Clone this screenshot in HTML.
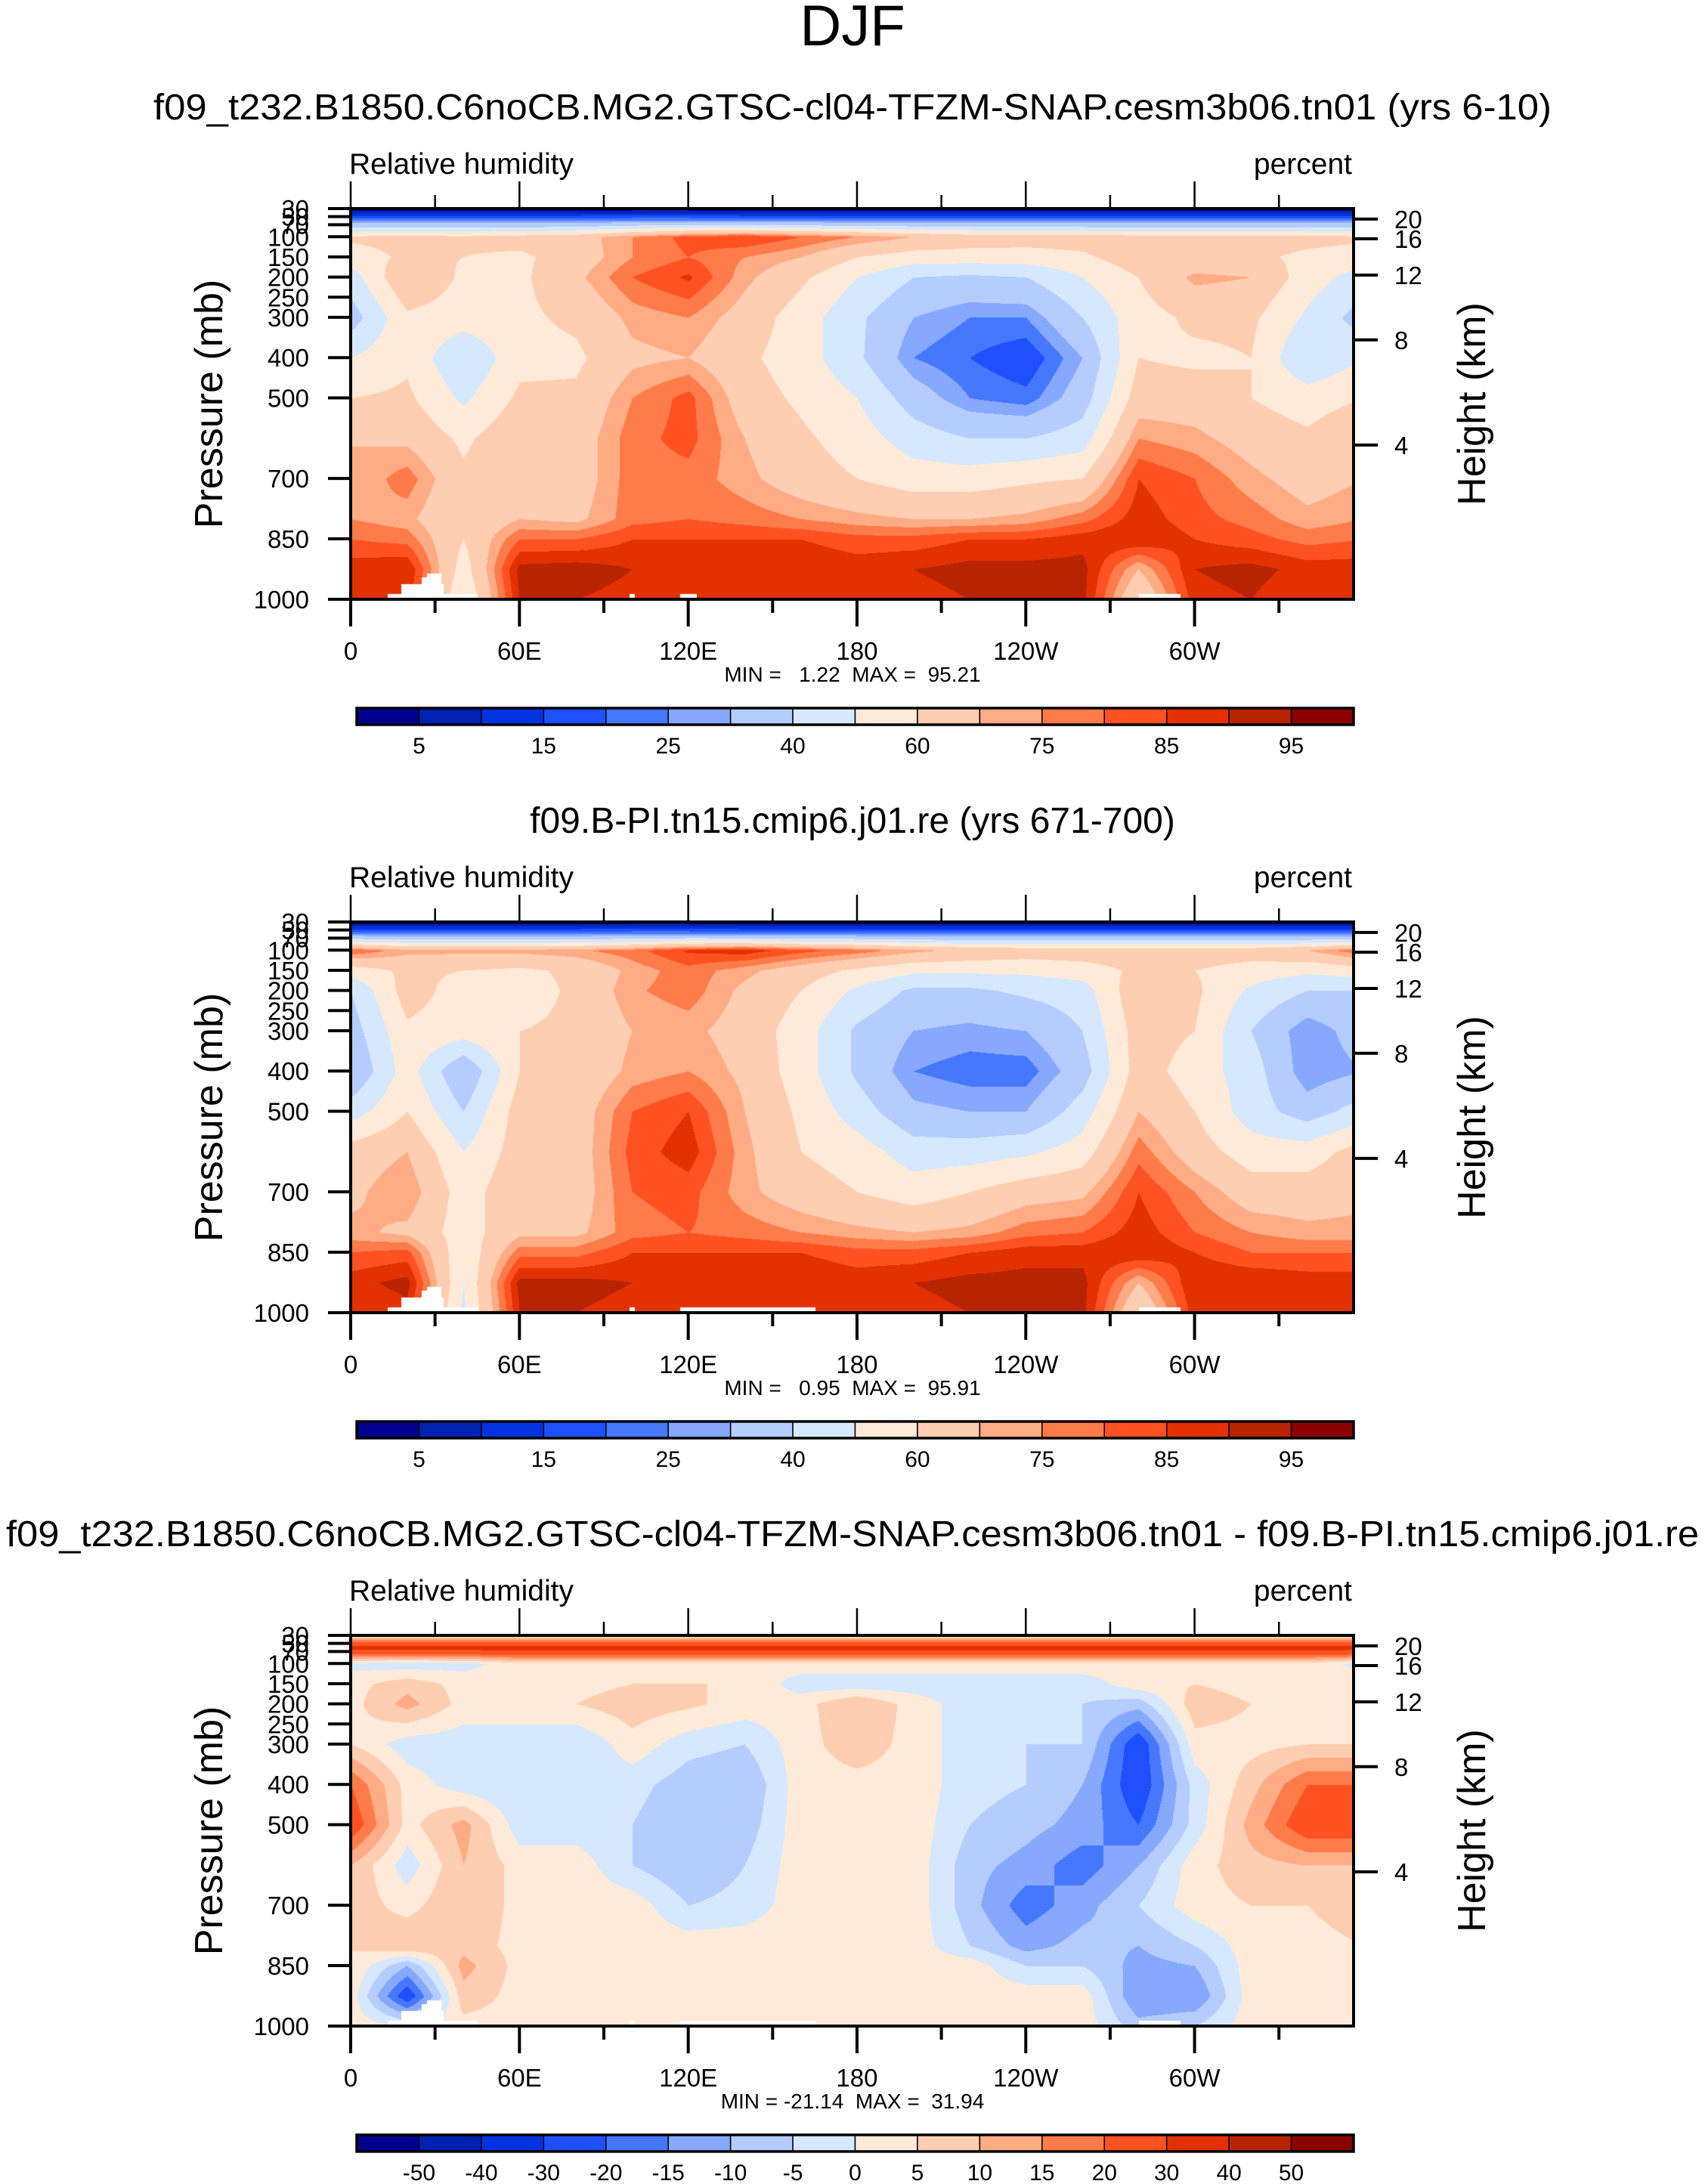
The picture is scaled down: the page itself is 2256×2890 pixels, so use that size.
<!DOCTYPE html>
<html><head><meta charset="utf-8">
<style>
html,body{margin:0;padding:0;background:#fff;}
body{width:2256px;height:2890px;position:relative;overflow:hidden;font-family:"Liberation Sans",sans-serif;}
canvas{position:absolute;}
svg{position:absolute;left:0;top:0;}
</style></head>
<body>
<canvas id="c0" width="1327" height="517" style="left:464px;top:276px"></canvas>
<canvas id="c1" width="1327" height="517" style="left:464px;top:1220px"></canvas>
<canvas id="c2" width="1327" height="517" style="left:464px;top:2164px"></canvas>
<svg id="s" width="2256" height="2890"></svg>
<script>
// ---- data ----
const lons=[0,20,40,60,80,100,120,140,160,180,200,220,240,260,280,300,320,340,360];
const levels=[30,60,100,150,200,300,400,500,600,700,800,850,925,1000];
const rh1=[
[2,25,62,55,45,35,50,60,70,70,75,80,88,85],
[2,25,63,62,70,58,58,62,68,78,72,78,90,88],
[2,25,62,60,58,55,40,48,58,62,60,60,55,50],
[2,25,64,58,58,58,57,62,68,70,70,80,92,90],
[2,25,66,65,68,62,58,62,65,65,68,80,93,90],
[2,26,75,75,80,72,68,75,78,78,78,85,90,88],
[2,26,82,80,86,75,70,82,82,78,80,85,90,88],
[2,25,85,75,72,66,62,65,70,72,78,85,90,88],
[2,25,80,70,62,55,55,58,62,65,75,85,90,88],
[2,25,75,60,50,42,42,50,55,60,72,82,88,88],
[2,25,70,55,40,30,25,35,45,55,70,82,90,88],
[2,25,66,55,38,25,20,25,40,55,70,85,92,90],
[2,25,65,55,40,25,15,22,40,58,72,85,92,92],
[2,25,65,58,50,40,30,35,45,60,78,88,92,92],
[2,25,64,66,60,56,60,65,75,85,88,90,70,60],
[2,25,64,62,72,62,58,65,72,80,82,85,90,88],
[2,25,64,62,70,62,60,60,66,72,78,82,92,90],
[2,25,63,58,55,48,40,55,62,66,72,78,88,85],
[2,25,62,55,45,35,50,60,70,70,75,80,88,85]];
const rh2=[
[2,25,80,55,40,35,30,45,65,68,72,80,88,85],
[2,25,72,62,65,58,55,60,70,75,68,82,92,88],
[2,25,72,60,55,55,30,40,50,55,55,52,50,48],
[2,25,72,58,55,60,60,65,65,68,68,78,92,90],
[2,25,74,62,62,62,62,65,65,65,68,78,92,90],
[2,26,78,72,74,70,72,80,82,80,78,85,90,88],
[2,26,86,78,78,72,75,85,88,82,80,85,90,88],
[2,25,88,72,68,66,68,70,72,72,78,85,90,88],
[2,25,82,65,60,55,55,58,60,65,75,85,90,88],
[2,25,78,58,48,38,38,45,55,60,72,82,88,88],
[2,25,72,52,38,30,25,32,45,55,70,82,90,88],
[2,25,68,52,38,28,22,30,45,60,72,85,92,90],
[2,25,66,52,42,30,22,30,48,66,78,88,92,92],
[2,25,66,55,45,40,35,45,55,68,80,88,92,92],
[2,25,66,62,68,65,65,70,78,85,88,90,70,60],
[2,25,66,60,62,60,55,60,65,75,80,85,90,88],
[2,25,66,55,48,40,45,45,55,65,75,80,90,88],
[2,25,70,52,40,25,25,35,55,65,72,80,88,85],
[2,25,80,55,40,35,30,45,65,68,72,80,88,85]];
const rhDiff=[
[4,35,-2,3,3,5,20,25,10,8,5,5,3,3],
[4,35,-3,8,12,-3,3,3,-3,3,10,-10,-25,0],
[4,35,-2,3,3,-3,-3,12,10,10,8,12,8,3],
[4,35,3,3,5,-5,-5,-3,3,3,3,3,3,3],
[4,35,3,3,5,-5,-3,-3,3,3,3,3,3,3],
[4,35,3,5,8,3,-3,-5,-5,3,3,3,3,3],
[4,35,3,5,6,-3,-8,-10,-10,-5,3,5,3,3],
[4,35,3,5,3,-5,-10,-8,-5,-3,3,3,3,3],
[4,35,3,-3,3,3,3,3,3,3,3,3,3,3],
[4,35,3,-3,10,8,3,3,3,3,3,3,3,3],
[4,35,3,-3,3,3,3,3,3,3,3,3,3,3],
[4,35,3,-3,-3,-3,-3,-5,-8,-8,-5,3,3,3],
[4,35,3,-3,-3,-5,-5,-8,-12,-18,-12,-5,3,3],
[4,35,3,-3,-5,-5,-10,-12,-18,-12,-8,-5,3,3],
[4,35,3,3,-8,-25,-25,-20,-10,-5,-10,-12,-15,-8],
[4,35,3,5,8,3,-3,-3,3,3,-5,-10,-15,-5],
[4,35,3,3,5,3,8,12,8,5,3,3,3,3],
[4,35,3,3,3,5,20,25,10,5,3,3,3,3],
[4,35,-2,3,3,5,20,25,10,8,5,5,3,3]];
const rhLevels=[5,10,15,20,25,30,40,50,60,70,75,80,85,90,95];
const diffLevels=[-50,-40,-30,-20,-15,-10,-5,0,5,10,15,20,30,40,50];
const rhLabels=["5","15","25","40","60","75","85","95"];
const diffLabels=["-50","-40","-30","-20","-15","-10","-5","0","5","10","15","20","30","40","50"];
const colors=["#00008F","#0022B0","#0033E0","#1E50FF","#4678FF","#87A8FF","#B4CCFF","#D6E8FF","#FFEAD8","#FFCDB2","#FFAB84","#FF7B4A","#FF5122","#E33200","#B82300","#8B0000"];
// below-ground masks: [lonStart, lonEnd, pressureTop]
const mask1=[[13,45,985],[18,33,962],[25,29,945],[27,32,935],[99,101,985],[117,123,985],[280,295,985]];
const mask2=[[13,45,985],[18,33,962],[25,29,945],[27,32,935],[99,101,985],[117,165,985],[280,295,985]];
const mask3=mask2;
const pTicks=[30,50,70,100,150,200,250,300,400,500,700,850,1000];
const hTicks=[[20,56],[16,105],[12,195],[8,356],[4,617]];
const lonTicks=[[0,"0"],[60,"60E"],[120,"120E"],[180,"180"],[240,"120W"],[300,"60W"]];
const titles=["f09_t232.B1850.C6noCB.MG2.GTSC-cl04-TFZM-SNAP.cesm3b06.tn01 (yrs 6-10)","f09.B-PI.tn15.cmip6.j01.re (yrs 671-700)","f09_t232.B1850.C6noCB.MG2.GTSC-cl04-TFZM-SNAP.cesm3b06.tn01 - f09.B-PI.tn15.cmip6.j01.re"];
const minmax=["MIN =   1.22  MAX =  95.21","MIN =   0.95  MAX =  95.91","MIN = -21.14  MAX =  31.94"];

// ---- axes ----
const PX=464,PW=1327,PH=517,PT=[276,1220,2164];
const degPx=3.722;
function xOf(lon){return PX+lon*degPx;}
function yOf(p,top){return top+(p-30)/970*PH;}

function sample(grid,lon,p){
  let i=Math.min(Math.floor(lon/20),lons.length-2);
  let fx=(lon-lons[i])/20;
  let j=0;while(j<levels.length-2&&p>levels[j+1])j++;
  let fy=(p-levels[j])/(levels[j+1]-levels[j]);
  fy=Math.max(0,Math.min(1,fy));
  const a=grid[i][j],b=grid[i+1][j],c=grid[i][j+1],d=grid[i+1][j+1];
  return (a*(1-fx)+b*fx)*(1-fy)+(c*(1-fx)+d*fx)*fy;
}
function hexRGB(h){return [parseInt(h.substr(1,2),16),parseInt(h.substr(3,2),16),parseInt(h.substr(5,2),16)];}
const rgb=colors.map(hexRGB);
function drawField(id,grid,lv,mask){
  const cv=document.getElementById(id),ctx=cv.getContext('2d');
  const img=ctx.createImageData(PW,PH);
  for(let x=0;x<PW;x++){
    const lon=x/degPx;
    let mTop=9999;
    for(const m of mask){if(lon>=m[0]&&lon<=m[1])mTop=Math.min(mTop,m[2]);}
    for(let y=0;y<PH;y++){
      const p=30+y/PH*970;
      const k=(y*PW+x)*4;
      if(p>=mTop){img.data[k]=255;img.data[k+1]=255;img.data[k+2]=255;img.data[k+3]=255;continue;}
      const v=sample(grid,lon,p);
      let ci=0;while(ci<lv.length&&v>=lv[ci])ci++;
      const c=rgb[ci];
      img.data[k]=c[0];img.data[k+1]=c[1];img.data[k+2]=c[2];img.data[k+3]=255;
    }
  }
  ctx.putImageData(img,0,0);
}
drawField('c0',rh1,rhLevels,mask1);
drawField('c1',rh2,rhLevels,mask2);
drawField('c2',rhDiff,diffLevels,mask3);

const svg=document.getElementById('s');
const NS="http://www.w3.org/2000/svg";
function mk(tag,attrs,parent){const e=document.createElementNS(NS,tag);for(const k in attrs)e.setAttribute(k,attrs[k]);(parent||svg).appendChild(e);return e;}
function txt(s,attrs,parent){const e=mk('text',attrs,parent);e.textContent=s;return e;}

const main=txt("DJF",{x:1128,y:60,'font-size':76,'text-anchor':'middle','font-family':'Liberation Sans, sans-serif'});



for(let n=0;n<3;n++){
  const top=PT[n],bot=top+PH,right=PX+PW;
  const g=mk('g',{});
  
  
  const t=txt(titles[n],{x:1128,y:top-118,'font-size':48,'text-anchor':'middle','font-family':'Liberation Sans, sans-serif'},g);
  if(n==2){t.setAttribute('textLength','2240');t.setAttribute('lengthAdjust','spacingAndGlyphs');}
  else if(n==0){t.setAttribute('textLength','1850');t.setAttribute('lengthAdjust','spacingAndGlyphs');}
  
  
  const lt=txt("Relative humidity",{x:462,y:top-46,'font-size':39},g);
  
  
  const ut=txt("percent",{x:1789,y:top-46,'font-size':39,'text-anchor':'end'},g);
  
  
  const fr=mk('rect',{x:PX,y:top,width:PW,height:PH,fill:'none',stroke:'#000','stroke-width':4},g);
  
  
  for(let lon=0;lon<=330;lon+=30){
    const major=lon%60==0,x=xOf(lon),L=major?36:18;
    mk('line',{x1:x,y1:bot,x2:x,y2:bot+L,stroke:'#000','stroke-width':4},g);
    mk('line',{x1:x,y1:top,x2:x,y2:top-L,stroke:'#000','stroke-width':2.5},g);
  }
  for(const [lon,lab] of lonTicks){
    const e=txt(lab,{x:xOf(lon),y:bot+80,'font-size':33,'text-anchor':'middle'},g);
    
    
  }
  for(const p of pTicks){
    const y=yOf(p,top);
    mk('line',{x1:PX-30,y1:y,x2:PX,y2:y,stroke:'#000','stroke-width':4},g);
    const e=txt(String(p),{x:409,y:y+12,'font-size':33,'text-anchor':'end'},g);
    
    
  }
  for(const [h,p] of hTicks){
    const y=yOf(p,top);
    mk('line',{x1:right,y1:y,x2:right+32,y2:y,stroke:'#000','stroke-width':4},g);
    const e=txt(String(h),{x:1845,y:y+12,'font-size':33},g);
    
    
  }
  const ya=txt("Pressure (mb)",{x:0,y:0,'font-size':52,'text-anchor':'middle',transform:`translate(294,${top+PH/2}) rotate(-90)`},g);
  
  
  const yb=txt("Height (km)",{x:0,y:0,'font-size':52,'text-anchor':'middle',transform:`translate(1965,${top+PH/2}) rotate(-90)`},g);
  
  
  const mm=txt(minmax[n],{x:1128,y:bot+109,'font-size':28,'text-anchor':'middle',style:'white-space:pre'},g);
  
  
  const cbY=bot+144,cbH=22,cbX=472,cbW=1319,bw=cbW/16;
  const cb=mk('g',{},g);
  
  
  for(let i=0;i<16;i++){
    const r=mk('rect',{x:cbX+i*bw,y:cbY,width:bw,height:cbH,fill:colors[i],stroke:'#000','stroke-width':1.5},cb);
    
    
  }
  mk('rect',{x:cbX,y:cbY,width:cbW,height:cbH,fill:'none',stroke:'#000','stroke-width':3.5},cb);
  if(n<2){
    rhLabels.forEach((lab,k)=>{
      const e=txt(lab,{x:cbX+(2*k+1)*bw,y:cbY+60,'font-size':30,'text-anchor':'middle'},cb);
      
      
    });
  } else {
    diffLabels.forEach((lab,k)=>{
      const e=txt(lab,{x:cbX+(k+1)*bw,y:cbY+60,'font-size':30,'text-anchor':'middle'},cb);
      
      
    });
  }
}
</script>
</body></html>
